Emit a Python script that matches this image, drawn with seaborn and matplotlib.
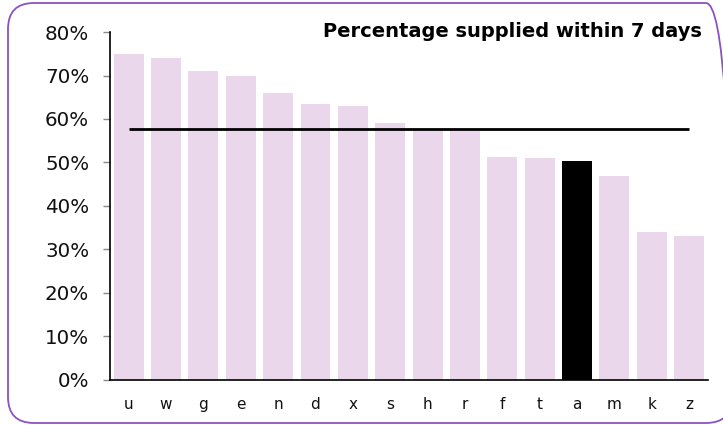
import matplotlib
matplotlib.use("Agg")
import matplotlib.pyplot as plt
from matplotlib.patches import FancyBboxPatch
from matplotlib.transforms import IdentityTransform
from matplotlib.ticker import PercentFormatter
import seaborn as sns
import pandas as pd

# Share of items supplied within 7 days, per unit (sorted high to low)
units = ["u", "w", "g", "e", "n", "d", "x", "s", "h", "r", "f", "t", "a", "m", "k", "z"]
pct_within_7_days = [75, 74, 71, 70, 66, 63.5, 63, 59, 57.5, 57.5, 51.2, 51, 50.3, 47, 34, 33.2]
highlight_unit = "a"
overall_average = 57.8
title_text = "Percentage supplied within 7 days"

BAR_COLOR = "#EBD7EB"
HIGHLIGHT_COLOR = "#000000"
FRAME_COLOR = "#8B52C0"

df = pd.DataFrame({"unit": units, "pct": pct_within_7_days})
palette = {u: (HIGHLIGHT_COLOR if u == highlight_unit else BAR_COLOR) for u in units}

sns.set_theme(style="white")
plt.rcParams["font.family"] = ["DejaVu Sans"]

W, H = 723, 425
fig = plt.figure(figsize=(W / 100, H / 100), dpi=100)
ax = fig.add_axes([0.1521, 0.1059, 0.979 - 0.1521, 0.9247 - 0.1059])

sns.barplot(data=df, x="unit", y="pct", hue="unit", palette=palette,
            order=units, hue_order=units, legend=False, width=0.8,
            saturation=1, ax=ax, edgecolor="none")

# Overall average as a flat line across the first to last category centre
ax.plot([0, len(units) - 1], [overall_average, overall_average],
        color="black", linewidth=2, solid_capstyle="butt", zorder=5)

ax.set_xlim(-0.5, len(units) - 0.5)
ax.set_ylim(0, 80)
ax.set_yticks(range(0, 81, 10))
ax.yaxis.set_major_formatter(PercentFormatter(decimals=0))
ax.set_xlabel("")
ax.set_ylabel("")

for side in ("top", "right"):
    ax.spines[side].set_visible(False)
for side in ("left", "bottom"):
    ax.spines[side].set_color("black")
    ax.spines[side].set_linewidth(1.2)

ax.tick_params(axis="y", which="major", left=True, length=5, width=1,
               color="#888888", labelsize=14.3, pad=10, labelcolor="#111111")
ax.tick_params(axis="x", which="major", bottom=False, labelsize=11,
               pad=6, labelcolor="#111111")

fig.text(702 / W, 1 - 22 / H, title_text, ha="right", va="top",
         fontsize=14, fontweight="bold", color="black")

# Rounded outer frame, laid out in pixels
frame = FancyBboxPatch((8, H - 423), 732 - 8, 423 - 3,
                       boxstyle="round,pad=0,rounding_size=26",
                       transform=IdentityTransform(), fill=False,
                       edgecolor=FRAME_COLOR, linewidth=1.3, clip_on=False)
fig.patches.append(frame)

fig.savefig("out.png", dpi=100)
